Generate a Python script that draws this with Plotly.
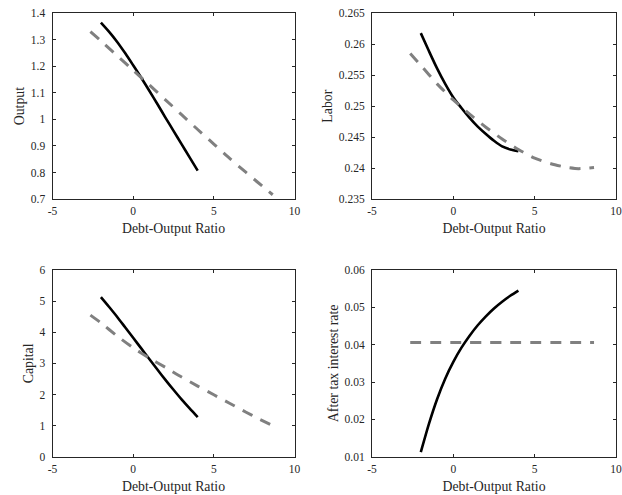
import plotly.graph_objects as go

# ---------------- data ----------------
x_solid = [-2, -1.5, -1, -0.5, 0, 0.5, 1, 1.5, 2, 2.5, 3, 3.5, 4]
x_dash = [-2.65, -2, -1, 0, 1, 2, 3, 4, 5, 6, 7, 7.7, 8.65]

output_solid = [1.365, 1.331, 1.293, 1.250, 1.204, 1.157, 1.108, 1.058, 1.007, 0.957, 0.907, 0.857, 0.807]
output_dash = [1.331, 1.296, 1.241, 1.185, 1.130, 1.074, 1.018, 0.962, 0.907, 0.852, 0.800, 0.764, 0.716]

labor_solid = [0.2618, 0.2589, 0.2561, 0.2536, 0.2514, 0.2497, 0.2481, 0.2467, 0.2455, 0.2444, 0.2435, 0.2430, 0.2427]
labor_dash = [0.2585, 0.2566, 0.2536, 0.2510, 0.2487, 0.2466, 0.2447, 0.2430, 0.2416, 0.2407, 0.2401, 0.2399, 0.2401]

capital_solid = [5.13, 4.82, 4.50, 4.16, 3.82, 3.48, 3.14, 2.80, 2.47, 2.15, 1.84, 1.55, 1.27]
capital_dash = [4.55, 4.30, 3.88, 3.50, 3.17, 2.87, 2.56, 2.27, 1.99, 1.71, 1.43, 1.24, 1.00]

rate_solid = [0.0112, 0.0188, 0.0254, 0.0309, 0.0354, 0.0392, 0.0424, 0.0452, 0.0476, 0.0497, 0.0515, 0.0531, 0.0545]
rate_dash = [0.0406] * len(x_dash)

x_ticks = [-5, 0, 5, 10]
x_ticktext = ["-5", "0", "5", "10"]

output_ticks = [0.7, 0.8, 0.9, 1.0, 1.1, 1.2, 1.3, 1.4]
output_ticktext = ["0.7", "0.8", "0.9", "1", "1.1", "1.2", "1.3", "1.4"]
labor_ticks = [0.235, 0.24, 0.245, 0.25, 0.255, 0.26, 0.265]
labor_ticktext = ["0.235", "0.24", "0.245", "0.25", "0.255", "0.26", "0.265"]
capital_ticks = [0, 1, 2, 3, 4, 5, 6]
capital_ticktext = ["0", "1", "2", "3", "4", "5", "6"]
rate_ticks = [0.01, 0.02, 0.03, 0.04, 0.05, 0.06]
rate_ticktext = ["0.01", "0.02", "0.03", "0.04", "0.05", "0.06"]

x_title = "Debt-Output Ratio"

panels = [
    ("Output", output_solid, output_dash, output_ticks, output_ticktext, [0.7, 1.4]),
    ("Labor", labor_solid, labor_dash, labor_ticks, labor_ticktext, [0.235, 0.265]),
    ("Capital", capital_solid, capital_dash, capital_ticks, capital_ticktext, [0, 6]),
    ("After tax interest rate", rate_solid, rate_dash, rate_ticks, rate_ticktext, [0.01, 0.06]),
]

# ---------------- layout ----------------
W, H = 622, 495
x_doms = [[52.5 / W, 294.5 / W], [372 / W, 616 / W]]
y_doms = [[1 - 199 / H, 1 - 13.3 / H], [1 - 456.7 / H, 1 - 270 / H]]

FONT = "Liberation Serif"
AX = "#262626"

fig = go.Figure()
layout = dict(
    width=W, height=H,
    margin=dict(l=0, r=0, t=0, b=0),
    paper_bgcolor="white", plot_bgcolor="white",
    showlegend=False,
    font=dict(family=FONT, size=11.5, color=AX),
)

for i, (name, ys, yd, yt, ytt, yr) in enumerate(panels):
    row, col = divmod(i, 2)
    n = "" if i == 0 else str(i + 1)
    xa, ya = "x" + n, "y" + n
    fig.add_trace(go.Scatter(x=x_solid, y=ys, mode="lines", xaxis=xa, yaxis=ya,
                             line=dict(color="black", width=2.6, shape="spline", smoothing=0.8)))
    fig.add_trace(go.Scatter(x=x_dash, y=yd, mode="lines", xaxis=xa, yaxis=ya,
                             line=dict(color="#808080", width=3, dash="11px,9px", shape="spline",
                                       smoothing=0.6)))
    common = dict(showline=True, linecolor=AX, linewidth=1, mirror="ticks",
                  ticks="inside", ticklen=3, tickcolor=AX, tickwidth=1,
                  showgrid=False, zeroline=False, automargin=False,
                  tickfont=dict(family=FONT, size=11.5, color=AX))
    layout["xaxis" + n] = dict(domain=x_doms[col], anchor=ya, range=[-5, 10],
                               tickvals=x_ticks, ticktext=x_ticktext,
                               title=dict(text=x_title, font=dict(family=FONT, size=13.8, color=AX), standoff=7),
                               ticklabelstandoff=1, **common)
    layout["yaxis" + n] = dict(domain=y_doms[row], anchor=xa, range=yr,
                               tickvals=yt, ticktext=ytt,
                               title=dict(text=name, font=dict(family=FONT, size=13.8, color=AX), standoff=2),
                               ticklabelstandoff=4, **common)

fig.update_layout(**layout)
fig.write_html("out.html", config={"displayModeBar": False},
               post_script="document.body.style.margin='0';")
